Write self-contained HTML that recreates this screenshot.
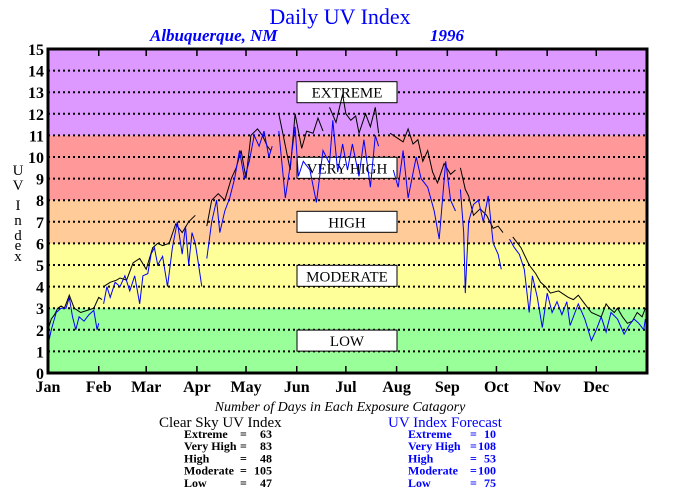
<!DOCTYPE html>
<html><head><meta charset="utf-8"><style>
body{margin:0;background:#fff;width:680px;height:500px;overflow:hidden}
svg{display:block;font-family:"Liberation Serif",serif}
</style></head><body>
<svg id="chart" width="680" height="500" viewBox="0 0 680 500">
<text x="340" y="24" text-anchor="middle" font-size="22" fill="#0000ff">Daily UV Index</text>
<text x="150" y="41" font-size="17" font-weight="bold" font-style="italic" fill="#0000ff">Albuquerque, NM</text>
<text x="430" y="41" font-size="17" font-weight="bold" font-style="italic" fill="#0000ff">1996</text>
<g id="bands"></g><g id="grid"></g><g id="boxes"></g><g id="lines"></g><g id="axes"></g>
<g font-size="15" text-anchor="middle">
<text x="18" y="175">U</text><text x="18" y="190">V</text><text x="18" y="210">I</text><text x="18" y="225">n</text><text x="18" y="240">d</text><text x="18" y="250">e</text><text x="18" y="261">x</text>
</g>
<text x="340" y="411" text-anchor="middle" font-size="14" font-style="italic">Number of Days in Each Exposure Catagory</text>
<text x="159" y="427" font-size="15">Clear Sky UV Index</text>
<text x="388" y="427" font-size="15" fill="#0000ff">UV Index Forecast</text>
<g id="stats" font-size="12" font-weight="bold"></g>
</svg>
<script>
const yTicks=[0,1,2,3,4,5,6,7,8,9,10,11,12,13,14,15];
const months=["Jan","Feb","Mar","Apr","May","Jun","Jul","Aug","Sep","Oct","Nov","Dec"];
const monthStart=[0,31,60,91,121,152,182,213,244,274,305,335];
const bandLows=[0,3,6,8,11];
const bandHighs=[3,6,8,11,15];
const bandColors=["#99ff99","#ffff99","#ffcc99","#ff9999","#dd99ff"];
const catNames=["LOW","MODERATE","HIGH","VERY HIGH","EXTREME"];
const catCenters=[1.5,4.5,7,9.5,13];
const clearDays=[0,2,4,6,8,10,13,16,20,24,28,31,33,33.5,34,38,42,44,48,52,56,60,64,67,70,74,78,82,86,90,91,97,100,104,108,112,115,118,121,124,128,131,134,136,137,141,144,148,151,155,158,162,165,168,170,172,176,180,182,185,188,190,194,197,200,202,203,209,213,217,220,223,226,229,232,235,238,242,246,249,250,252,255,257,260,264,268,272,275,278,280,284,289,294,298,301,304,307,312,318,321,324,328,332,335,338,341,343,346,348,351,354,357,360,363,365];
const clearUV=[2.0,2.5,2.7,3.0,3.1,3.0,3.6,3.0,2.8,2.9,3.0,3.5,3.4,null,4.0,4.2,4.3,4.4,4.3,5.1,5.3,4.8,5.8,6.0,5.9,6.0,6.9,6.5,7.0,7.3,null,6.8,8.0,8.3,8.0,9.0,9.5,10.3,9.0,11.0,11.3,11.0,10.5,10.3,null,12.0,10.9,9.4,12.0,10.4,11.2,11.1,11.8,11.2,null,12.3,11.6,12.9,12.0,11.7,11.9,11.1,12.0,11.4,12.3,11.1,null,11.1,10.9,10.7,11.3,10.6,10.8,9.8,10.3,9.3,8.8,9.7,9.2,9.4,null,9.5,8.5,8.2,7.3,7.6,7.3,6.7,6.8,6.5,null,6.3,5.8,5.0,4.6,4.2,4.0,3.7,3.8,3.5,3.4,3.6,3.2,2.8,2.7,2.6,3.2,3.0,2.8,3.0,2.6,2.3,2.4,2.8,2.6,3.0];
const fcstDays=[0,2,5,8,11,13,15,17,19,22,25,28,30,31,33,34,36,38,41,44,47,50,53,56,58,61,63,65,67,70,73,76,79,82,84,86,88,90,92,94,95,97,100,103,105,108,111,114,117,120,123,126,129,132,135,137,138,141,145,148,151,153,156,160,164,168,172,174,177,180,183,186,190,193,197,200,202,205,211,214,217,220,225,228,232,236,239,243,246,249,250,252,254,255,257,260,263,266,269,272,275,277,279,282,285,288,291,294,296,299,302,305,308,311,314,317,319,322,324,328,332,335,338,341,344,348,352,355,358,361,364,365];
const fcstUV=[1.3,2.0,2.8,3.0,3.0,3.5,2.6,2.0,2.6,2.4,2.7,2.9,2.0,2.3,null,3.2,4.0,3.5,4.2,4.0,4.5,3.8,4.5,3.2,4.5,4.6,5.5,5.8,5.0,5.4,4.0,5.8,7.0,5.5,6.8,5.0,6.5,6.0,5.0,4.0,null,5.3,7.0,8.0,6.5,7.5,8.1,9.0,10.3,9.0,9.8,11.0,10.5,11.2,10.0,10.5,null,11.2,8.1,9.6,11.4,9.1,9.8,9.4,7.9,10.3,9.7,11.7,9.3,10.6,9.4,10.6,9.1,10.8,8.6,11.0,10.5,null,9.4,8.6,10.3,8.1,10.0,9.0,8.6,7.5,6.2,9.8,8.0,7.5,null,8.5,6.5,3.7,7.0,7.8,8.0,7.0,8.2,6.0,5.5,4.8,null,6.2,5.8,5.5,4.8,2.8,4.5,3.5,2.1,3.7,2.8,3.3,2.7,3.3,2.2,2.8,3.2,2.5,1.5,2.0,2.6,1.9,2.8,2.5,1.8,2.2,2.5,2.3,2.0,2.5];
const statNames=["Extreme","Very High","High","Moderate","Low"];
const clearCounts=[63,83,48,105,47];
const fcstCounts=[10,108,53,100,75];

const NS="http://www.w3.org/2000/svg";
const X0=48,X1=647,Y0=373,Y1=49;
const xs=d=>X0+d*(X1-X0)/366;
const ys=v=>Y0-v*(Y0-Y1)/15;
function mk(tag,attrs,parent){const e=document.createElementNS(NS,tag);for(const k in attrs)e.setAttribute(k,attrs[k]);parent.appendChild(e);return e;}
const bands=document.getElementById('bands');
bandLows.forEach((lo,i)=>{const r=mk('rect',{x:X0,y:ys(bandHighs[i]),width:X1-X0,height:ys(lo)-ys(bandHighs[i]),fill:bandColors[i]},bands);

});
const grid=document.getElementById('grid');
yTicks.forEach(v=>{
 if(v>0&&v<15){const l=mk('line',{x1:X0,x2:X1,y1:ys(v),y2:ys(v),stroke:'#000','stroke-width':2,'stroke-dasharray':'2 3'},grid);
 
 }
 const t=mk('text',{x:44,y:ys(v)+6,'text-anchor':'end','font-size':16,'font-weight':'bold'},grid);t.textContent=v;
 
 
});
const boxes=document.getElementById('boxes');
catNames.forEach((n,i)=>{const g=mk('g',{},boxes);
 
 
 mk('rect',{x:297,y:ys(catCenters[i])-10.5,width:100,height:21,fill:'#fff',stroke:'#000','stroke-width':1},g);
 const t=mk('text',{x:347,y:ys(catCenters[i])+5.5,'text-anchor':'middle','font-size':15},g);t.textContent=n;});
const lines=document.getElementById('lines');
function path(days,vals){let d='',pen=false;days.forEach((dd,i)=>{const v=vals[i];if(v==null){pen=false;return;}d+=(pen?'L':'M')+xs(dd).toFixed(1)+' '+ys(v).toFixed(1);pen=true;});return d;}
const pc=mk('path',{d:path(clearDays,clearUV),fill:'none',stroke:'#000','stroke-width':1},lines);


const pf=mk('path',{d:path(fcstDays,fcstUV),fill:'none',stroke:'#0000ff','stroke-width':1},lines);


const axes=document.getElementById('axes');
const fr=mk('rect',{x:X0,y:Y1,width:X1-X0,height:Y0-Y1,fill:'none',stroke:'#000','stroke-width':3},axes);


months.forEach((m,i)=>{const x=xs(monthStart[i]);
 if(i>0){mk('line',{x1:x,x2:x,y1:Y1,y2:Y1+7,stroke:'#000','stroke-width':1.5},axes);mk('line',{x1:x,x2:x,y1:Y0,y2:Y0-7,stroke:'#000','stroke-width':1.5},axes);}
 const t=mk('text',{x:x,y:392,'text-anchor':'middle','font-size':16,'font-weight':'bold'},axes);t.textContent=m;
 
 });
const stats=document.getElementById('stats');
statNames.forEach((n,i)=>{const y=438+i*12.2;
 [[184,240,272,clearCounts[i],'#000','clear'],[408,470,496,fcstCounts[i],'#0000ff','forecast']].forEach(([xl,xe,xn,c,col,k])=>{
  const g=mk('g',{fill:col},stats);
  
  
  mk('text',{x:xl,y:y},g).textContent=n;
  mk('text',{x:xe,y:y},g).textContent='=';
  mk('text',{x:xn,y:y,'text-anchor':'end'},g).textContent=c;});});
</script>
</body></html>
